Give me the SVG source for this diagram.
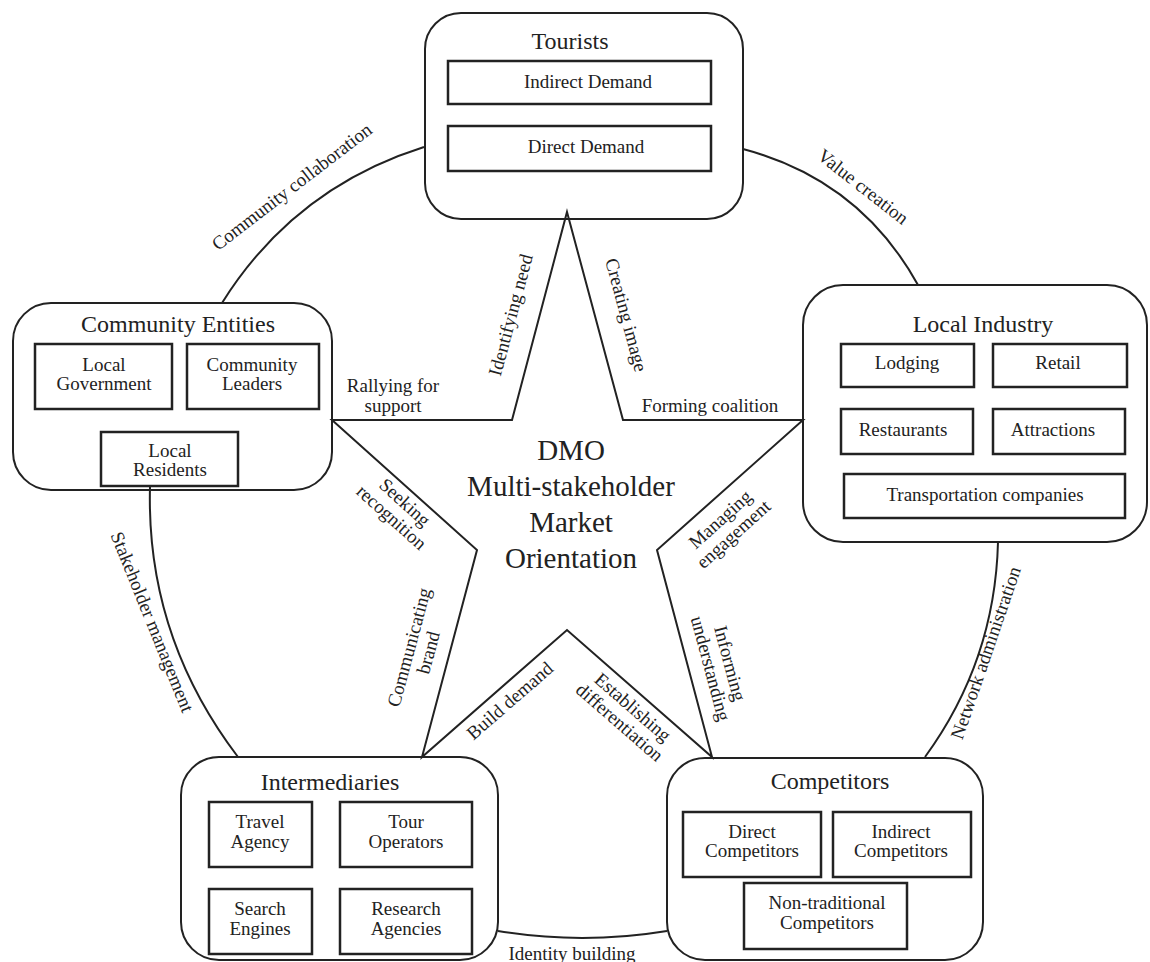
<svg xmlns="http://www.w3.org/2000/svg" width="1150" height="962" viewBox="0 0 1150 962">
<style>
.box{fill:none;stroke:#222;stroke-width:2}
.sub{fill:#fff;stroke:#222;stroke-width:2.5}
.con{fill:none;stroke:#222;stroke-width:2;stroke-linejoin:miter}
text{font-family:"Liberation Serif","Times New Roman",serif;fill:#222;text-anchor:middle}
.t{font-size:24px}
.s{font-size:19px}
.l{font-size:19px}
.c{font-size:29px}
</style>
<rect width="1150" height="962" fill="#fff"/>
<g id="connectors">
<path class="con" d="M222,303 Q294,188 424,147"/>
<path class="con" d="M743,149 Q860,180 918,285"/>
<path class="con" d="M998,542 Q995,661 925,757"/>
<path class="con" d="M150,487 Q146,636 238,757"/>
<path class="con" d="M498,931 Q582,945 667,931"/>
<polygon class="con" points="567,212 623,420 803,420 657,550 712,757 567,630 422,757 477,550 332,420 512,420"/>
<text class="l" transform="translate(292,187) rotate(-37.5)" y="6">Community collaboration</text>
<text class="l" transform="translate(863,187) rotate(38)" y="6">Value creation</text>
<text class="l" transform="translate(986,653) rotate(-71)" y="6">Network administration</text>
<text class="l" transform="translate(152,622) rotate(68)" y="6">Stakeholder management</text>
<text class="l" x="572" y="960">Identity building</text>
<text class="l" x="393" y="392">Rallying for<tspan x="393" y="412">support</tspan></text>
<text class="l" x="710" y="412">Forming coalition</text>
<text class="l" transform="translate(511,315) rotate(-75)" y="6">Identifying need</text>
<text class="l" transform="translate(626,315) rotate(75)" y="6">Creating image</text>
<text class="l" transform="translate(398,510) rotate(42)"><tspan x="0" y="-4">Seeking</tspan><tspan x="0" y="16">recognition</tspan></text>
<text class="l" transform="translate(419,650) rotate(-75)"><tspan x="0" y="-4">Communicating</tspan><tspan x="0" y="16">brand</tspan></text>
<text class="l" transform="translate(510,701) rotate(-41)" y="6">Build demand</text>
<text class="l" transform="translate(626,715) rotate(41)"><tspan x="0" y="-4">Establishing</tspan><tspan x="0" y="16">differentiation</tspan></text>
<text class="l" transform="translate(727,527) rotate(-42)"><tspan x="0" y="-4">Managing</tspan><tspan x="0" y="16">engagement</tspan></text>
<text class="l" transform="translate(720,666) rotate(75)"><tspan x="0" y="-4">Informing</tspan><tspan x="0" y="16">understanding</tspan></text>
</g>
<g id="center">
<text class="c" x="571" y="460">DMO</text>
<text class="c" x="571" y="496">Multi-stakeholder</text>
<text class="c" x="571" y="532">Market</text>
<text class="c" x="571" y="568">Orientation</text>
</g>
<g id="tourists">
<rect class="box" x="425" y="13" width="318" height="206" rx="36"/>
<text class="t" x="570" y="49">Tourists</text>
<rect class="sub" x="448" y="61" width="263" height="43"/>
<text class="s" x="588" y="88">Indirect Demand</text>
<rect class="sub" x="448" y="126" width="263" height="45"/>
<text class="s" x="586" y="153">Direct Demand</text>
</g>
<g id="community">
<rect class="box" x="13" y="303" width="319" height="187" rx="38"/>
<text class="t" x="178" y="332">Community Entities</text>
<rect class="sub" x="35" y="344" width="137" height="65"/>
<text class="s" x="104" y="371">Local<tspan x="104" y="390">Government</tspan></text>
<rect class="sub" x="187" y="344" width="132" height="65"/>
<text class="s" x="252" y="371">Community<tspan x="252" y="390">Leaders</tspan></text>
<rect class="sub" x="101" y="432" width="137" height="54"/>
<text class="s" x="170" y="457">Local<tspan x="170" y="476">Residents</tspan></text>
</g>
<g id="industry">
<rect class="box" x="803" y="285" width="344" height="257" rx="40"/>
<text class="t" x="983" y="332">Local Industry</text>
<rect class="sub" x="841" y="344" width="133" height="43"/>
<text class="s" x="907" y="369">Lodging</text>
<rect class="sub" x="993" y="344" width="134" height="43"/>
<text class="s" x="1058" y="369">Retail</text>
<rect class="sub" x="841" y="409" width="132" height="45"/>
<text class="s" x="903" y="436">Restaurants</text>
<rect class="sub" x="993" y="409" width="132" height="45"/>
<text class="s" x="1053" y="436">Attractions</text>
<rect class="sub" x="844" y="474" width="281" height="44"/>
<text class="s" x="985" y="501">Transportation companies</text>
</g>
<g id="intermediaries">
<rect class="box" x="181" y="757" width="317" height="203" rx="38"/>
<text class="t" x="330" y="790">Intermediaries</text>
<rect class="sub" x="209" y="802" width="103" height="65"/>
<text class="s" x="260" y="828">Travel<tspan x="260" y="848">Agency</tspan></text>
<rect class="sub" x="340" y="802" width="132" height="65"/>
<text class="s" x="406" y="828">Tour<tspan x="406" y="848">Operators</tspan></text>
<rect class="sub" x="209" y="889" width="103" height="65"/>
<text class="s" x="260" y="915">Search<tspan x="260" y="935">Engines</tspan></text>
<rect class="sub" x="340" y="889" width="132" height="65"/>
<text class="s" x="406" y="915">Research<tspan x="406" y="935">Agencies</tspan></text>
</g>
<g id="competitors">
<rect class="box" x="667" y="758" width="316" height="202" rx="38"/>
<text class="t" x="830" y="789">Competitors</text>
<rect class="sub" x="683" y="812" width="138" height="65"/>
<text class="s" x="752" y="838">Direct<tspan x="752" y="857">Competitors</tspan></text>
<rect class="sub" x="833" y="812" width="138" height="65"/>
<text class="s" x="901" y="838">Indirect<tspan x="901" y="857">Competitors</tspan></text>
<rect class="sub" x="744" y="883" width="163" height="66"/>
<text class="s" x="827" y="909">Non-traditional<tspan x="827" y="929">Competitors</tspan></text>
</g>
</svg>
